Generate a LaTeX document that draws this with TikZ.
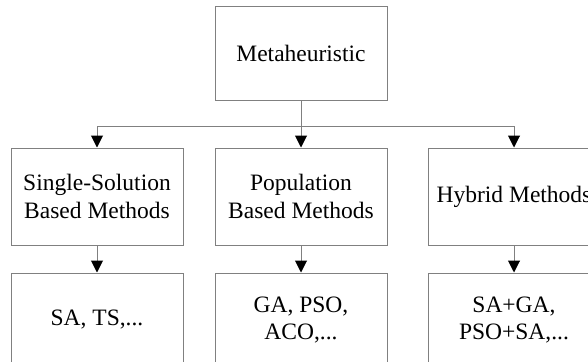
\documentclass[tikz,border=0pt]{standalone}
\usepackage{fontspec}
\setmainfont{Liberation Serif}
\usetikzlibrary{arrows.meta}
\definecolor{linegray}{RGB}{128,128,128}
\begin{document}
\begin{tikzpicture}[x=1pt,y=-1pt,
  box/.style={draw=linegray,line width=1pt,minimum width=172pt,inner sep=2pt,align=center,
    font=\fontsize{23.5}{27.5}\selectfont},
  conn/.style={draw=linegray,line width=1pt},
  tip/.style={conn,-{Triangle[width=12pt,length=12pt,fill=black,color=black]}}]
\useasboundingbox (0,0) rectangle (588,361);
\node[box,minimum height=93pt] (top) at (301,53.5) {Metaheuristic};
\node[box,minimum height=97pt] (s1) at (97,196.5) {Single-Solution\\Based Methods};
\node[box,minimum height=97pt] (s2) at (301,196.5) {Population\\Based Methods};
\node[box,minimum height=97pt] (s3) at (514,196.5) {Hybrid Methods};
\node[box,minimum height=94pt] (e1) at (97,320) {SA, TS,...};
\node[box,minimum height=94pt] (e2) at (301,320) {GA, PSO,\\ACO,...};
\node[box,minimum height=94pt] (e3) at (514,320) {SA+GA,\\PSO+SA,...};
\coordinate (bus) at (301,126);
\draw[tip] (top.south) -- (s2.north);
\draw[tip] (bus) -| (s1.north);
\draw[tip] (bus) -| (s3.north);
\draw[tip] (s1.south) -- (e1.north);
\draw[tip] (s2.south) -- (e2.north);
\draw[tip] (s3.south) -- (e3.north);
\end{tikzpicture}
\end{document}
